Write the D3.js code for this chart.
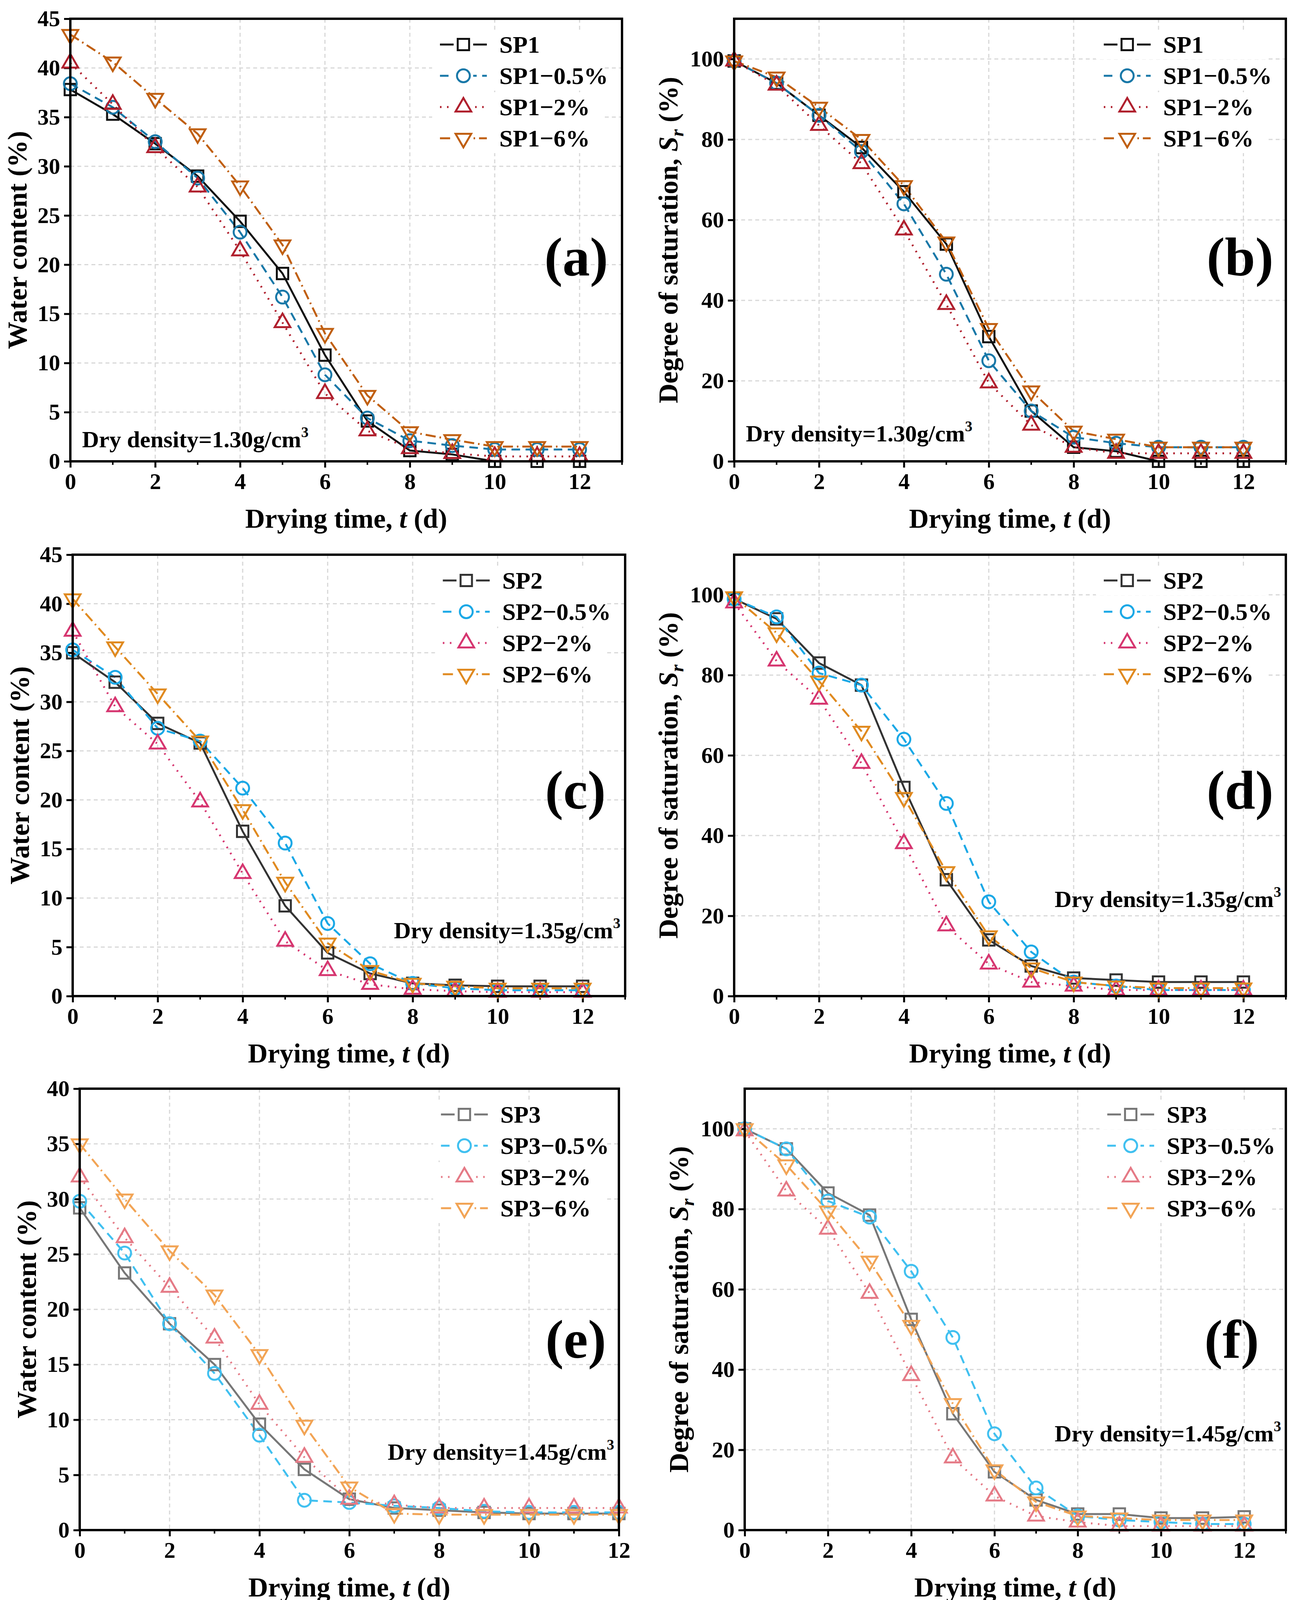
<!DOCTYPE html>
<html><head><meta charset="utf-8">
<script src="https://cdn.jsdelivr.net/npm/d3@7"></script>
<style>body{margin:0;background:#fff}text{font-family:"Liberation Serif","DejaVu Serif",serif;font-weight:bold}</style>
</head><body><svg id="c" width="3317" height="4151"></svg>
<script>
var days = [0,1,2,3,4,5,6,7,8,9,10,11,12];
var suffixes = ["", "\u22120.5%", "\u22122%", "\u22126%"];

var wcSP1 = [37.8,35.3,32.3,29,24.4,19.1,10.8,4.1,1.1,0.7,0,0,0];
var wcSP1_05 = [38.4,36,32.5,28.8,23.3,16.7,8.8,4.4,2.1,1.6,1.2,1.2,1.2];
var wcSP1_2 = [40.5,36.3,31.9,27.9,21.4,14.1,6.9,3.1,1.3,0.8,0.5,0.5,0.5];
var wcSP1_6 = [43.4,40.6,36.9,33.3,28,22,13,6.7,3,2.2,1.5,1.5,1.5];

var srSP1 = [99.5,94,86,78,67,54,31,12.5,3.5,2.5,0,0,0];
var srSP1_05 = [99.5,94,86,77,64,46.5,25,12.5,6,4.5,3.5,3.5,3.5];
var srSP1_2 = [99.5,93.5,83.5,74,57.5,39,19.5,9,3.5,2,2,2,2];
var srSP1_6 = [99.5,95.5,88,80,68.5,54.5,33,17.5,7.5,5.5,3.5,3.5,3.5];

var wcSP2 = [35,32,27.8,25.8,16.8,9.2,4.4,2.3,1.3,1.1,1,1,1];
var wcSP2_05 = [35.3,32.5,27.3,26,21.2,15.6,7.4,3.3,1.3,0.8,0.6,0.6,0.6];
var wcSP2_2 = [37.2,29.5,25.7,19.8,12.5,5.6,2.6,1.2,0.7,0.5,0.4,0.4,0.4];
var wcSP2_6 = [40.5,35.6,30.8,26,19,11.6,5.4,2.6,1.3,1,0.8,0.8,0.8];

var srSP2 = [99,94,83,77.5,52,29,14,7.5,4.5,4,3.5,3.5,3.5];
var srSP2_05 = [99,94.5,80.5,77.5,64,48,23.5,11,3.5,2.5,1.5,1.5,1.5];
var srSP2_2 = [98,83.5,74,58,38,17.5,8,3.5,2.5,1.5,1.5,1.5,1.5];
var srSP2_6 = [99.5,90.5,78.5,66,49.5,31,15,7,3.5,2.5,2,2,2];

var wcSP3 = [29.2,23.3,18.7,15,9.6,5.5,2.8,2,1.8,1.6,1.5,1.5,1.5];
var wcSP3_05 = [29.8,25.1,18.7,14.2,8.6,2.7,2.5,2.2,2,1.7,1.6,1.6,1.6];
var wcSP3_2 = [32,26.5,22,17.4,11.4,6.6,2.8,2.3,2,2,2,2,2];
var wcSP3_6 = [35,30,25.3,21.3,15.9,9.5,3.9,1.5,1.4,1.4,1.4,1.4,1.4];

var srSP3 = [100,95,84,78.5,52.5,29,14.5,7.5,4,4,3,3,3.3];
var srSP3_05 = [100,95,82,78,64.5,48,24,10.5,3.5,2.5,2,1.5,1.5];
var srSP3_2 = [99.5,84.5,75,59,38.5,18,8.5,3.5,2,1,1,1,1];
var srSP3_6 = [100,91,79.5,67,51,31.5,15,7,3.5,3,2.5,2.5,2.5];

var colors1 = ["#111111","#1878a8","#b0202e","#c05f10"];
var colors2 = ["#333333","#1aa8e6","#d63670","#e08a20"];
var colors3 = ["#777777","#40c0f0","#e57a86","#f2a455"];
var dashes = [null,"22,14","4,14","26,10,4,10"];
var symbols = [d3.symbolSquare, d3.symbolCircle, d3.symbolTriangle, d3.symbolTriangle];

var panels = [
 {id:"(a)",x:180,y:48,w:1412,h:1133,yMax:45,yStep:5,xMax:13,name:"SP1",data:[wcSP1,wcSP1_05,wcSP1_2,wcSP1_6],col:colors1,wc:true,dd:"1.30",ddLeft:true,ddY:1145,lab:[0.917,0.58]},
 {id:"(b)",x:1879,y:48,w:1412,h:1133,yMax:110,yStep:20,xMax:13,name:"SP1",data:[srSP1,srSP1_05,srSP1_2,srSP1_6],col:colors1,wc:false,dd:"1.30",ddLeft:true,ddY:1130,lab:[0.917,0.58]},
 {id:"(c)",x:186,y:1420,w:1414,h:1130,yMax:45,yStep:5,xMax:13,name:"SP2",data:[wcSP2,wcSP2_05,wcSP2_2,wcSP2_6],col:colors2,wc:true,dd:"1.35",ddLeft:false,ddY:2402,lab:[0.91,0.575]},
 {id:"(d)",x:1879,y:1420,w:1412,h:1130,yMax:110,yStep:20,xMax:13,name:"SP2",data:[srSP2,srSP2_05,srSP2_2,srSP2_6],col:colors2,wc:false,dd:"1.35",ddLeft:false,ddY:2322,lab:[0.917,0.575]},
 {id:"(e)",x:204,y:2787,w:1380,h:1130,yMax:40,yStep:5,xMax:12,name:"SP3",data:[wcSP3,wcSP3_05,wcSP3_2,wcSP3_6],col:colors3,wc:true,dd:"1.45",ddLeft:false,ddY:3737,lab:[0.92,0.61]},
 {id:"(f)",x:1906,y:2787,w:1385,h:1130,yMax:110,yStep:20,xMax:13,name:"SP3",data:[srSP3,srSP3_05,srSP3_2,srSP3_6],col:colors3,wc:false,dd:"1.45",ddLeft:false,ddY:3690,lab:[0.9,0.61]}
];

var svg = d3.select("#c");

panels.forEach(function (p) {
    var g = svg.append("g").attr("transform", "translate(" + p.x + "," + p.y + ")");
    var x = d3.scaleLinear().domain([0, p.xMax]).range([0, p.w]);
    var y = d3.scaleLinear().domain([0, p.yMax]).range([p.h, 0]);
    var yt = d3.range(0, p.wc ? p.yMax + 0.1 : 101, p.yStep);
    var xt = d3.range(0, 13, 2);

    // grid
    g.selectAll(".gx").data(xt.slice(1)).enter().append("line")
        .attr("x1", x).attr("x2", x).attr("y1", 0).attr("y2", p.h)
        .attr("stroke", "#d8d8d8").attr("stroke-width", 3).attr("stroke-dasharray", "10,8");
    g.selectAll(".gy").data(yt.slice(1)).enter().append("line")
        .attr("y1", y).attr("y2", y).attr("x1", 0).attr("x2", p.w)
        .attr("stroke", "#d8d8d8").attr("stroke-width", 3).attr("stroke-dasharray", "10,8");

    var xa = g.append("g").attr("transform", "translate(0," + p.h + ")")
        .call(d3.axisBottom(x).tickValues(xt).tickSize(16).tickPadding(14));
    var ya = g.append("g").call(d3.axisLeft(y).tickValues(yt).tickSize(16).tickPadding(10));
    [xa, ya].forEach(function (a) {
        a.select(".domain").remove();
        a.selectAll("line").attr("stroke", "#000").attr("stroke-width", 5);
        a.selectAll("text").attr("font-size", 58).attr("fill", "#000")
            .style("font-family", "Liberation Serif").style("font-weight", "bold");
    });
    // minor x ticks
    g.selectAll(".mx").data(d3.range(1, p.xMax + 1, 2)).enter().append("line")
        .attr("x1", x).attr("x2", x).attr("y1", p.h).attr("y2", p.h + 9)
        .attr("stroke", "#000").attr("stroke-width", 4);

    var line = d3.line().x(function (d, i) { return x(days[i]); }).y(function (d) { return y(d); });

    p.data.forEach(function (s, k) {
        g.append("path").datum(s).attr("d", line).attr("fill", "none")
            .attr("stroke", p.col[k]).attr("stroke-width", 5)
            .attr("stroke-dasharray", dashes[k]);
    });
    p.data.forEach(function (s, k) {
        g.selectAll(".m" + k).data(s).enter().append("path")
            .attr("d", d3.symbol().type(symbols[k]).size(k >= 2 ? 700 : 850))
            .attr("transform", function (d, i) { return "translate(" + x(days[i]) + "," + y(d) + ")" + (k == 3 ? " rotate(180)" : ""); })
            .attr("fill", "none").attr("stroke", p.col[k]).attr("stroke-width", 5);
    });

    g.append("rect").attr("width", p.w).attr("height", p.h)
        .attr("fill", "none").attr("stroke", "#000").attr("stroke-width", 6);

    // legend
    var lx = p.w * 0.67;
    p.data.forEach(function (s, k) {
        var ly = 66 + k * 80;
        var lg = g.append("g").attr("transform", "translate(" + lx + "," + ly + ")");
        lg.append("rect").attr("x", -20).attr("y", -38).attr("width", 440).attr("height", 76).attr("fill", "#fff");
        lg.append("line").attr("x1", 0).attr("x2", 120).attr("stroke", p.col[k]).attr("stroke-width", 5)
            .attr("stroke-dasharray", dashes[k]);
        lg.append("rect").attr("x", 35).attr("y", -22).attr("width", 50).attr("height", 44).attr("fill", "#fff");
        lg.append("path").attr("d", d3.symbol().type(symbols[k]).size(k >= 2 ? 700 : 850))
            .attr("transform", "translate(60,0)" + (k == 3 ? " rotate(180)" : ""))
            .attr("fill", "none").attr("stroke", p.col[k]).attr("stroke-width", 5);
        lg.append("text").attr("x", 152).attr("y", 21).attr("font-size", 62).text(p.name + suffixes[k]);
    });

    // panel label
    g.append("text").attr("x", p.w * p.lab[0]).attr("y", p.h * p.lab[1])
        .attr("text-anchor", "middle").attr("font-size", 140).text(p.id);

    // dry density
    var dd = g.append("text").attr("font-size", 60).attr("y", p.ddY - p.y)
        .attr("x", p.ddLeft ? 30 : p.w - 12).attr("text-anchor", p.ddLeft ? "start" : "end");
    dd.append("tspan").text("Dry density=" + p.dd + "g/cm");
    dd.append("tspan").attr("font-size", 38).attr("dy", -26).text("3");

    // axis titles
    var xtl = g.append("text").attr("x", p.w / 2).attr("y", p.h + 170).attr("text-anchor", "middle").attr("font-size", 70);
    xtl.append("tspan").text("Drying time, ");
    xtl.append("tspan").attr("font-style", "italic").text("t");
    xtl.append("tspan").text(" (d)");

    var ytl = g.append("text").attr("transform", "translate(" + (-112) + "," + (p.h / 2) + ") rotate(-90)")
        .attr("text-anchor", "middle").attr("font-size", 70);
    if (p.wc) {
        ytl.text("Water content (%)");
    } else {
        ytl.attr("transform", "translate(" + (-145) + "," + (p.h / 2) + ") rotate(-90)");
        ytl.append("tspan").text("Degree of saturation, ");
        ytl.append("tspan").attr("font-style", "italic").text("S");
        ytl.append("tspan").attr("font-style", "italic").attr("font-size", 48).attr("dy", 15).text("r");
        ytl.append("tspan").attr("dy", -15).text(" (%)");
    }
});
</script></body></html>
